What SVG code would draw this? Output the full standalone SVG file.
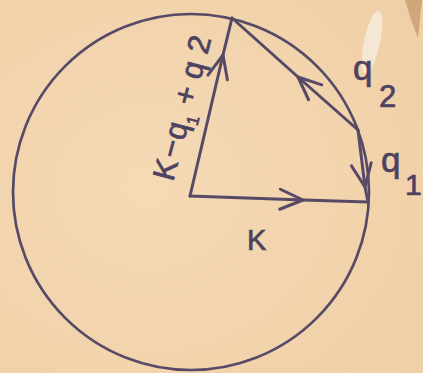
<svg xmlns="http://www.w3.org/2000/svg" width="423" height="373" viewBox="0 0 423 373">
<defs>
<style>
.ln{fill:none;stroke:#574a66;stroke-width:3;stroke-linecap:round;stroke-linejoin:round}
.circ{fill:none;stroke:#574a66;stroke-width:2.7}
.lbl{font-family:"Liberation Sans",Arial,sans-serif;font-size:30px;fill:#4d4260;stroke:#4d4260;stroke-width:0.7}
</style>
<marker id="chev" markerUnits="userSpaceOnUse" markerWidth="40" markerHeight="40" viewBox="-30 -15 40 30" refX="0" refY="0" orient="auto">
<path d="M-23,-10 L0,0 L-23,10" fill="none" stroke="#574a66" stroke-width="3" stroke-linecap="round" stroke-linejoin="round"/>
</marker>
<radialGradient id="bg" cx="0.35" cy="0.5" r="0.8">
<stop offset="0" stop-color="#f5dab6"/>
<stop offset="1" stop-color="#efcfa6"/>
</radialGradient>
</defs>
<rect width="423" height="373" fill="url(#bg)"/>
<ellipse cx="372" cy="42" rx="8" ry="32" fill="#f7ece0" opacity="0.8" transform="rotate(12 372 42)"/>
<path d="M405,0 L422,0 L418,38 L411,20 Z" fill="#b98c5e" opacity="0.6"/>
<g id="circle"><circle class="circ" cx="191" cy="192" r="178"/></g>
<g id="connectors">
<path id="vK" class="ln" d="M190,196 L303,200 L368,202" marker-mid="url(#chev)"/>
<path id="vSum" class="ln" d="M190,196 L223,55 L232,18" marker-mid="url(#chev)"/>
<path id="vq2" class="ln" d="M358,130 L298,77 L232,18" marker-mid="url(#chev)"/>
<path id="vq1" class="ln" d="M358,130 L365,187 L368,202" marker-mid="url(#chev)"/>
</g>
<g id="labels">
<text class="lbl" x="381" y="172" style="font-size:35px">q<tspan x="405" y="195" style="font-size:30px">1</tspan></text>
<text class="lbl" x="247" y="250" style="font-size:29px">K</text>
<text class="lbl" x="353" y="80" style="font-size:35px">q<tspan x="379" y="107" style="font-size:31px">2</tspan></text>
<text class="lbl" transform="translate(172,186) rotate(-75)" style="font-size:31px"><tspan x="4" y="0">K</tspan><tspan x="27" y="0">−</tspan><tspan x="46" y="0">q</tspan><tspan x="64" y="9" style="font-size:17px">1</tspan><tspan x="82" y="0">+</tspan><tspan x="109" y="0">q</tspan><tspan x="135" y="0">2</tspan></text>
</g>
</svg>
